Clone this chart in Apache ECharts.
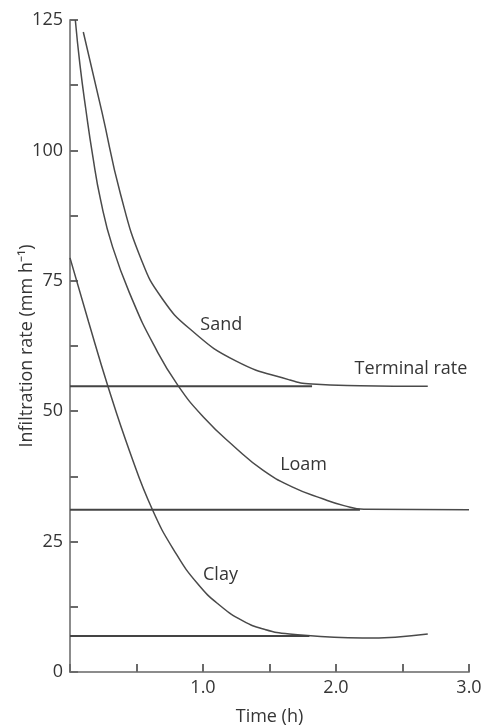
<!DOCTYPE html>
<html>
<head>
<meta charset="utf-8">
<script src="https://cdn.jsdelivr.net/npm/echarts@6/dist/echarts.min.js"></script>
<style>
html,body{margin:0;padding:0;background:#fff;overflow:hidden;}
#c{width:481px;height:725px;}
</style>
</head>
<body>
<div id="c"></div>
<script>
// Data
const sandT = [0.10, 0.24, 0.38, 0.54, 0.69, 0.90, 1.25, 1.65, 1.82, 2.18, 2.69];
const sandV = [122.7, 107.4, 91.6, 78.8, 71.7, 65.8, 59.6, 56.0, 55.2, 54.9, 54.8];
const loamT = [0.04, 0.075, 0.12, 0.17, 0.23, 0.32, 0.47, 0.63, 0.81, 1.01, 1.24, 1.45, 1.67, 1.90, 2.06, 2.21, 3.00];
const loamV = [125.0, 116.4, 107.7, 99.1, 90.5, 81.5, 71.3, 62.7, 55.0, 48.7, 43.1, 38.7, 35.5, 33.2, 31.9, 31.2, 31.1];
const clayT = [0.00, 0.14, 0.285, 0.45, 0.62, 0.79, 0.96, 1.13, 1.30, 1.46, 1.65, 2.20, 2.69];
const clayV = [79.4, 67.1, 54.8, 42.2, 31.1, 23.0, 16.9, 12.7, 9.8, 8.2, 7.3, 6.5, 7.3];
const terminalNames = ['Sand', 'Loam', 'Clay'];
const terminalRates = [54.8, 31.1, 6.9];
const terminalEnds = [1.82, 2.18, 1.80];
const yTickLabels = [0, 25, 50, 75, 100, 125];
const xTickLabels = [1.0, 2.0, 3.0];
const curveNames = ['Sand', 'Loam', 'Clay'];

const pairs = (t, v) => t.map((x, i) => [x, v[i]]);
const curveData = [pairs(sandT, sandV), pairs(loamT, loamV), pairs(clayT, clayV)];
// label anchor positions (data coords) for annotations
const labelAnchors = [[0.98, 66.5], [1.58, 39.7], [1.00, 18.6]];
const terminalLabelAnchor = [2.14, 58.1];

const textColor = '#353535';
const font = 'Open Sans';
const fs = 18;

const series = [];
curveNames.forEach((n, i) => {
  series.push({
    type: 'line', name: n, data: curveData[i], smooth: 0.5, symbol: 'none',
    lineStyle: { color: '#4a4a4a', width: 1.5 },
    markPoint: {
      symbol: 'circle', symbolSize: 0,
      data: [{ coord: labelAnchors[i], value: n }],
      label: { show: true, position: 'right', distance: 0, formatter: n,
               color: textColor, fontFamily: font, fontSize: fs }
    }
  });
});
terminalRates.forEach((r, i) => {
  const s = {
    type: 'line', name: 'Terminal ' + terminalNames[i],
    data: [[0, r], [terminalEnds[i], r]], symbol: 'none',
    lineStyle: { color: '#444', width: 2 }
  };
  if (i === 0) {
    s.markPoint = {
      symbol: 'circle', symbolSize: 0,
      data: [{ coord: terminalLabelAnchor, value: 'Terminal rate' }],
      label: { show: true, position: 'right', distance: 0, formatter: 'Terminal rate',
               color: textColor, fontFamily: font, fontSize: fs }
    };
  }
  series.push(s);
});

const chart = echarts.init(document.getElementById('c'), null, { renderer: 'canvas', width: 481, height: 725 });
chart.setOption({
  animation: false,
  backgroundColor: '#fff',
  grid: { left: 70, right: 12, top: 20, bottom: 53, containLabel: false, outerBoundsMode: 'none' },
  xAxis: {
    type: 'value', min: 0, max: 3, interval: 0.5,
    name: 'Time (h)', nameLocation: 'middle', nameGap: 36, nameMoveOverlap: false,
    nameTextStyle: { color: textColor, fontFamily: font, fontSize: 18 },
    axisLine: { show: true, lineStyle: { color: '#8c8c8c', width: 2 } },
    axisTick: { show: true, inside: true, length: 8, lineStyle: { color: '#6a6a6a', width: 2 } },
    axisLabel: {
      color: textColor, fontFamily: font, fontSize: fs, margin: 7,
      formatter: v => xTickLabels.some(t => Math.abs(t - v) < 1e-9) ? v.toFixed(1) : ''
    },
    splitLine: { show: false }
  },
  yAxis: {
    type: 'value', min: 0, max: 125, interval: 12.5,
    name: 'Infiltration rate (mm h\u207B\u00B9)', nameLocation: 'middle', nameGap: 34,
    nameMoveOverlap: false, nameRotate: 90,
    nameTextStyle: { color: textColor, fontFamily: font, fontSize: 18 },
    axisLine: { show: true, lineStyle: { color: '#8c8c8c', width: 2 } },
    axisTick: { show: true, inside: true, length: 8, lineStyle: { color: '#6a6a6a', width: 2 } },
    axisLabel: {
      color: textColor, fontFamily: font, fontSize: fs, margin: 7,
      formatter: v => yTickLabels.includes(v) ? String(v) : ''
    },
    splitLine: { show: false }
  },
  series: series
});
</script>
</body>
</html>
